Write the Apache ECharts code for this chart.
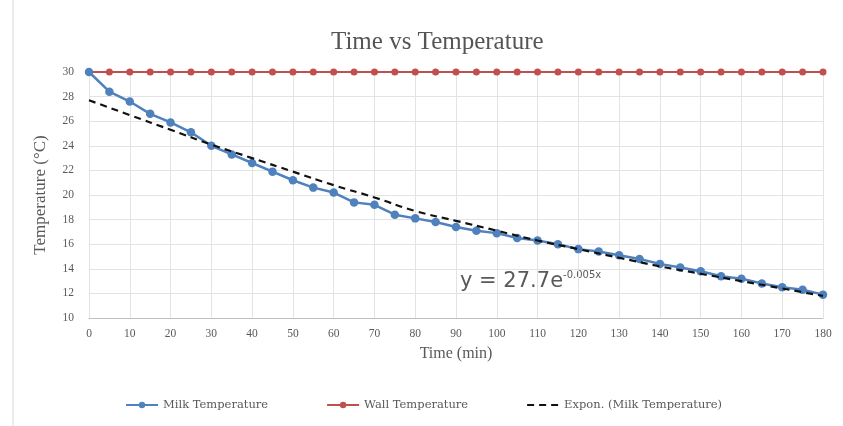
<!DOCTYPE html>
<html>
<head>
<meta charset="utf-8">
<script src="https://cdn.jsdelivr.net/npm/echarts@6/dist/echarts.min.js"></script>
<style>
  html, body { margin: 0; padding: 0; background: #fff; }
  #main { width: 843px; height: 426px; }
</style>
</head>
<body>
<div id="main"></div>
<script>
// 时间（分钟）
const times = [0, 5, 10, 15, 20, 25, 30, 35, 40, 45, 50, 55, 60, 65, 70, 75, 80, 85, 90,
  95, 100, 105, 110, 115, 120, 125, 130, 135, 140, 145, 150, 155, 160, 165, 170, 175, 180];
// 牛奶温度
const milkTemp = [30, 28.4, 27.6, 26.6, 25.9, 25.1, 24.0, 23.3, 22.6, 21.9, 21.2, 20.6, 20.2,
  19.4, 19.2, 18.4, 18.1, 17.8, 17.4, 17.1, 16.9, 16.5, 16.3, 16.0, 15.6, 15.4, 15.1, 14.8,
  14.4, 14.1, 13.8, 13.4, 13.2, 12.8, 12.5, 12.3, 11.9];
// 墙壁温度
const wallTemp = [30, 30, 30, 30, 30, 30, 30, 30, 30, 30, 30, 30, 30, 30, 30, 30, 30, 30, 30,
  30, 30, 30, 30, 30, 30, 30, 30, 30, 30, 30, 30, 30, 30, 30, 30, 30, 30];
// 指数趋势线
const trendTimes = [0, 10, 20, 30, 40, 50, 60, 70, 80, 90, 100, 110, 120, 130, 140, 150, 160, 170, 180];
const trendTemp = [27.7, 26.5, 25.3, 24.1, 23.0, 21.9, 20.8, 19.8, 18.7, 17.9, 17.1, 16.3,
  15.6, 14.9, 14.2, 13.6, 13.0, 12.4, 11.8];

const pair = (xs, ys) => xs.map((x, i) => [x, ys[i]]);

const chart = echarts.init(document.getElementById("main"));
const serif = "Liberation Serif";
const blue = "#4f81bd";
const red = "#c0504d";

const option = {
  backgroundColor: "#fff",
  animation: false,
  title: {
    text: "Time vs Temperature",
    left: 326,
    top: 25,
    textStyle: { fontFamily: serif, fontSize: 25, fontWeight: "normal", color: "#555" },
  },
  grid: { left: 89, right: 20, top: 72, bottom: 108 },
  legend: {
    bottom: 10,
    left: 120,
    itemGap: 58,
    itemWidth: 32,
    itemHeight: 8,
    textStyle: { fontFamily: "DejaVu Serif", fontSize: 11.5, color: "#595959" },
    data: [
      "Milk Temperature",
      "Wall Temperature",
      { name: "Expon. (Milk Temperature)", itemStyle: { opacity: 0 } },
    ],
  },
  xAxis: {
    type: "value",
    min: 0,
    max: 180,
    interval: 10,
    name: "Time (min)",
    nameLocation: "middle",
    nameGap: 28,
    nameTextStyle: { fontFamily: serif, fontSize: 16, color: "#595959" },
    axisLine: { lineStyle: { color: "#bfbfbf" } },
    axisTick: { show: false },
    axisLabel: { fontFamily: serif, fontSize: 11.5, color: "#595959", margin: 10 },
    splitLine: { lineStyle: { color: "#e3e3e3" } },
  },
  yAxis: {
    type: "value",
    min: 10,
    max: 30,
    interval: 2,
    name: "Temperature (°C)",
    nameLocation: "middle",
    nameGap: 40,
    nameTextStyle: { fontFamily: serif, fontSize: 17, color: "#595959" },
    axisLine: { show: false },
    axisTick: { show: false },
    axisLabel: { fontFamily: serif, fontSize: 11.5, color: "#595959", margin: 15 },
    splitLine: { lineStyle: { color: "#e3e3e3" } },
  },
  graphic: [
    {
      type: "line",
      shape: { x1: 13, y1: 0, x2: 13, y2: 426 },
      style: { stroke: "#d9d9d9", lineWidth: 1 },
    },
    {
      type: "text",
      left: 460,
      top: 270,
      style: {
        text: "{b|y = 27.7e}{s|-0.005x}",
        rich: {
          b: { fontFamily: "DejaVu Sans", fontSize: 21, fill: "#595959" },
          s: { fontFamily: "DejaVu Sans", fontSize: 10, fill: "#595959", padding: [0, 0, 13, 0] },
        },
      },
    },
  ],
  series: [
    {
      name: "Wall Temperature",
      type: "line",
      data: pair(times, wallTemp),
      symbol: "circle",
      symbolSize: 7,
      lineStyle: { color: red, width: 2 },
      itemStyle: { color: red },
      z: 2,
    },
    {
      name: "Milk Temperature",
      type: "line",
      data: pair(times, milkTemp),
      symbol: "circle",
      symbolSize: 8.5,
      lineStyle: { color: blue, width: 2.5 },
      itemStyle: { color: blue },
      z: 3,
    },
    {
      name: "Expon. (Milk Temperature)",
      type: "line",
      data: pair(trendTimes, trendTemp),
      smooth: true,
      symbol: "none",
      lineStyle: { color: "#111", width: 2.2, type: [7, 5] },
      itemStyle: { color: "#111" },
      z: 4,
    },
  ],
};

chart.setOption(option);
</script>
</body>
</html>
